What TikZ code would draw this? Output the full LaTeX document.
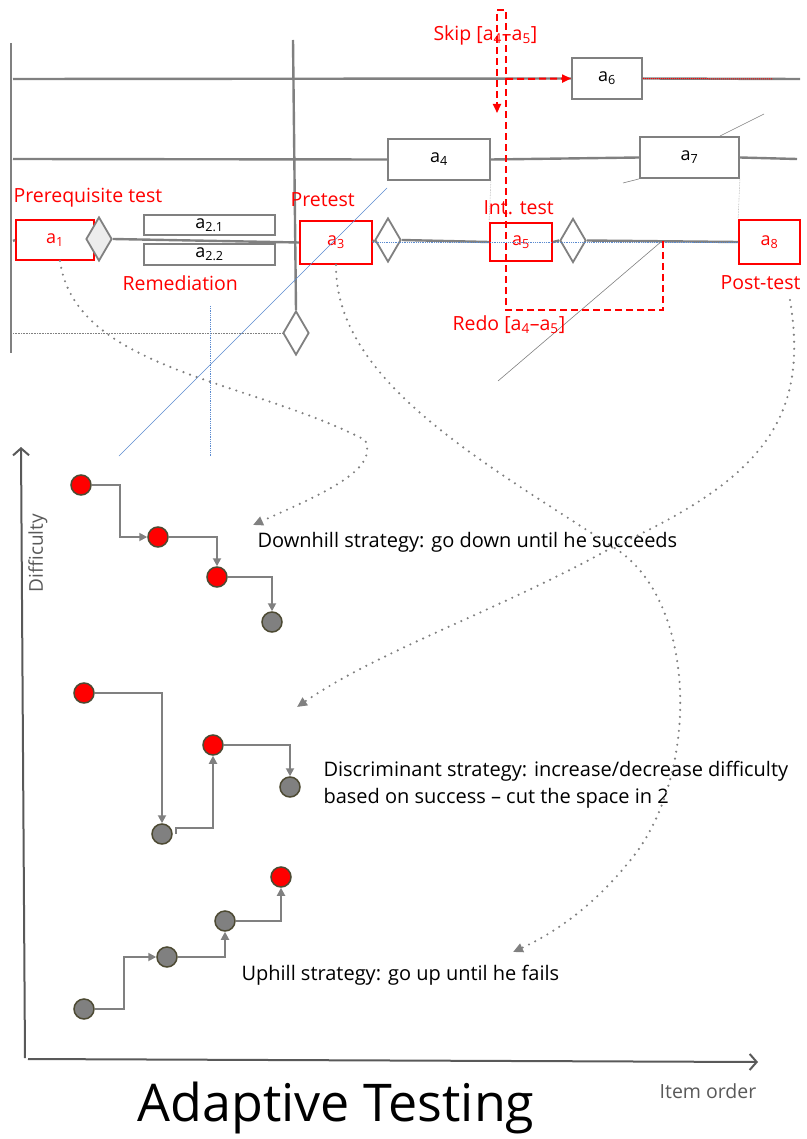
\documentclass[tikz,border=0pt]{standalone}
\usepackage{fontspec}
\setmainfont{Open Sans}
\usetikzlibrary{arrows.meta,shapes.geometric,positioning}

\definecolor{linegray}{HTML}{808080}
\definecolor{axisgray}{HTML}{595959}
\definecolor{guideblue}{HTML}{5B8BD0}
\definecolor{dotrim}{HTML}{4D4A33}

\tikzset{
  track/.style={draw=linegray, line width=2.4pt},
  actbox/.style={draw=linegray, line width=1.8pt, fill=white, inner sep=0pt,
    font=\fontsize{18}{20}\selectfont},
  testbox/.style={actbox, draw=red, text=red},
  choice/.style={diamond, draw=linegray, line width=1.8pt, fill=white,
    inner sep=0pt, minimum width=26pt, minimum height=44pt},
  redlabel/.style={text=red, anchor=west, font=\fontsize{19.5}{22}\selectfont},
  reroute/.style={draw=red, line width=2pt, dash pattern=on 7pt off 4pt,
    -{Triangle[length=9pt,width=8pt]}},
  hint/.style={draw=linegray, line width=2.4pt, line cap=round,
    dash pattern=on 0pt off 7pt, -{Triangle[length=10pt,width=9pt]}},
  guide/.style={draw=linegray, line width=0.6pt},
  item/.style={circle, draw=dotrim, line width=1.5pt, inner sep=0pt, minimum size=20pt},
  reddot/.style={item, fill=red},
  greydot/.style={item, fill=linegray},
  steparrow/.style={draw=linegray, line width=1.8pt, -{Triangle[length=8pt,width=8pt]}},
  strategy/.style={anchor=west, font=\fontsize{20}{27}\selectfont},
}

\begin{document}
\begin{tikzpicture}[x=1pt, y=-1pt]

    \useasboundingbox (0,0) rectangle (806,1139);

    % Timeline frame
    \draw[track] (11,43) -- (11,353);
    \node[choice] (join) at (296,333) {};
    \draw[track] (293,40) -- (join.north);
    \draw[guide, densely dotted] (13,333) -- (join.west);

    % Activities
    \node[testbox, minimum width=78pt, minimum height=40pt] (a1) at (55,240) {a\textsubscript{1}};
    \node[choice, fill=black!7] (gate1) at (99,239) {};
    \node[actbox, minimum width=131pt, minimum height=20pt] (a21) at (209.5,225) {a\textsubscript{2.1}};
    \node[actbox, minimum width=131pt, minimum height=21pt] (a22) at (209.5,254.5) {a\textsubscript{2.2}};
    \node[testbox, minimum width=72pt, minimum height=43pt] (a3) at (336,242.5) {a\textsubscript{3}};
    \node[choice] (gate2) at (388,240) {};
    \node[actbox, minimum width=102pt, minimum height=41pt] (a4) at (439,159.5) {a\textsubscript{4}};
    \node[testbox, minimum width=62pt, minimum height=38pt] (a5) at (521,242) {a\textsubscript{5}};
    \node[choice] (gate3) at (573,240.5) {};
    \node[actbox, minimum width=70pt, minimum height=41pt] (a6) at (607,78.5) {a\textsubscript{6}};
    \node[actbox, minimum width=99pt, minimum height=41pt] (a7) at (689.5,157.5) {a\textsubscript{7}};
    \node[testbox, minimum width=61pt, minimum height=44pt] (a8) at (769.5,242) {a\textsubscript{8}};

    % Paths
    \draw[track] (13,79) -- (a6.west);
    \draw[track] (a6.east) -- (800,79);
    \draw[red, line width=1pt, densely dotted] (a6.east) -- (773,79);
    \draw[track] (13,159) -- (a4.west);
    \draw[track] (a4.east) -- (a7.west);
    \draw[track] (a7.east) -- (797,159);
    \draw[track] (13,241) -- (a1.west);
    \draw[track] (gate1.east) -- (a3.west);
    \draw[track] (a3.east) -- (gate2.west);
    \draw[track] (gate2.east) -- (a5.west);
    \draw[track] (a5.east) -- (gate3.west);
    \draw[track] (gate3.east) -- (a8.west);
    \draw[guideblue, line width=0.8pt, densely dotted] (a3.east |- 0,242) -- (a8.west |- 0,242);
    \draw[guide, densely dotted, draw=black!35] (a4.south east) -- (a5.north west);
    \draw[guide, densely dotted, draw=black!35] (a7.south east) -- (a8.north west);

    % Construction lines
    \draw[guide] (498,381) -- (662,241);
    \draw[guide] (623,183) -- (a7.south west);
    \draw[guide] (720,136) -- (764,114);
    \draw[guideblue, line width=0.6pt] (119,456) -- (387,188);
    \draw[guideblue, line width=0.8pt, densely dotted] (210,306) -- (210,456);

    % Labels
    \node[redlabel] at (10,198) {Prerequisite test};
    \node[redlabel] at (287,200) {Pretest};
    \node[redlabel] at (480,208) {Int. test};
    \node[redlabel] at (717,283) {Post-test};
    \node[redlabel] at (119,283) {Remediation};
    \node[redlabel] at (449,325) {Redo [a\textsubscript{4}–a\textsubscript{5}]};
    \node[redlabel] at (430,35) {Skip [a\textsubscript{4}–a\textsubscript{5}]};

    % Skip and redo
    \draw[reroute] (663,241) -- (663,310) -- (506,310) -- (506,10) -- (497,10) -- (497,113);
    \draw[reroute] (506,79) -- (a6.west);

    % Axes
    \draw[axisgray, line width=2pt, -{Straight Barb[length=7pt,width=16pt]}] (25,1058) -- (21,447);
    \draw[axisgray, line width=2pt, -{Straight Barb[length=7pt,width=16pt]}] (28,1059) -- (758,1062);
    \node[rotate=90, text=axisgray, font=\fontsize{19}{22}\selectfont] at (38,553) {Difficulty};
    \node[text=axisgray, font=\fontsize{19.5}{22}\selectfont] at (708,1091) {Item order};
    \node[font=\fontsize{52}{58}\selectfont] at (336,1108) {Adaptive Testing};

    % Downhill
    \node[reddot] (c1) at (81,485) {};
    \node[reddot] (c2) at (158,537) {};
    \node[reddot] (c3) at (217,577) {};
    \node[greydot] (c4) at (272,622) {};
    \draw[steparrow] (c1.east) -- ++(28,0) |- (c2.west);
    \draw[steparrow] (c2.east) -| (c3.north);
    \draw[steparrow] (c3.east) -| (c4.north);
    \node[strategy] (downtext) at (254,542) {Downhill strategy: go down until he succeeds};

    % Discriminant
    \node[reddot] (d1) at (84,693) {};
    \node[greydot] (d2) at (162,834) {};
    \node[reddot] (d3) at (213,745) {};
    \node[greydot] (d4) at (290,787) {};
    \draw[steparrow] (d1.east) -| (d2.north);
    \draw[steparrow] ([xshift=3pt]d2.east) -- ++(0,-6) -| (d3.south);
    \draw[steparrow] (d3.east) -| (d4.north);
    \node[strategy, align=left] (disctext) at (320,785)
      {Discriminant strategy: increase/decrease difficulty\\based on success – cut the space in 2};

    % Uphill
    \node[greydot] (u1) at (84,1009) {};
    \node[greydot] (u2) at (167,957) {};
    \node[greydot] (u3) at (225,921) {};
    \node[reddot] (u4) at (281,877) {};
    \draw[steparrow] (u1.east) -- ++(29,0) |- (u2.west);
    \draw[steparrow] (u2.east) -| (u3.south);
    \draw[steparrow] (u3.east) -| (u4.south);
    \node[strategy] (uptext) at (238,975) {Uphill strategy: go up until he fails};

    % Tests to strategies
    \coordinate (downtip) at (253,525);
    \coordinate (disctip) at (297,707);
    \coordinate (uptip) at (513,952);
    \draw[hint] ([xshift=5pt]a1.south) .. controls (75,370) and (250,380) .. (365,440)
      .. controls (380,470) and (320,495) .. (downtip);
    \draw[hint] (a3.south) .. controls (335,380) and (480,460) .. (613,547)
      .. controls (700,600) and (700,780) .. (628,863)
      .. controls (590,910) and (550,935) .. (uptip);
    \draw[hint] (790,300) .. controls (810,420) and (760,480) .. (613,547)
      .. controls (500,610) and (380,650) .. (disctip);

\end{tikzpicture}
\end{document}
